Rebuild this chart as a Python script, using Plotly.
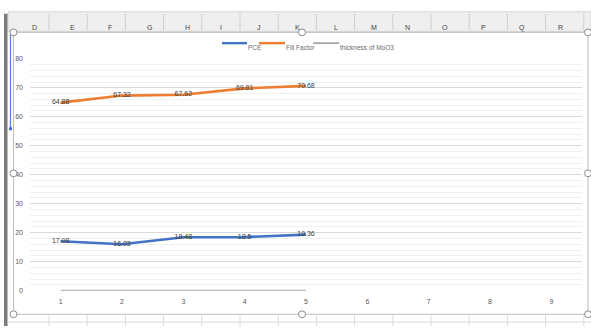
import plotly.graph_objects as go

W, H = 591, 329

# chart data
positions = [1, 2, 3, 4, 5]
pce = [17.08, 16.03, 18.48, 18.5, 19.36]
fill_factor = [64.88, 67.32, 67.62, 69.81, 70.68]
thickness = [0, 0, 0, 0, 0]
category_ticks = [1, 2, 3, 4, 5, 6, 7, 8, 9]
series_names = ["PCE", "Fill Factor", "thickness of MoO3"]
series_colors = ["#4472C4", "#ED7D31", "#A5A5A5"]
sheet_columns = ["D", "E", "F", "G", "H", "I", "J", "K", "L", "M", "N", "O", "P", "Q", "R"]

FONT = "Liberation Sans, Arial, sans-serif"


def px(x):
    return x / W


def py(y):
    return 1 - y / H


fig = go.Figure()

fig.add_trace(go.Scatter(
    x=positions, y=pce, mode="lines+text", name=series_names[0],
    line=dict(color=series_colors[0], width=2.6),
    text=[f"{v:g}" for v in pce], textposition="middle center",
    textfont=dict(size=7, color="#404040", family=FONT),
))
fig.add_trace(go.Scatter(
    x=positions, y=fill_factor, mode="lines+text", name=series_names[1],
    line=dict(color=series_colors[1], width=2.6),
    text=[f"{v:g}" for v in fill_factor], textposition="middle center",
    textfont=dict(size=7, color="#404040", family=FONT),
))
fig.add_trace(go.Scatter(
    x=positions, y=thickness, mode="lines", name=series_names[2],
    line=dict(color=series_colors[2], width=1.8),
))

shapes = []
annotations = []

# worksheet column header band
shapes.append(dict(type="rect", xref="paper", yref="paper",
                   x0=px(8), x1=1, y0=py(28), y1=py(8),
                   fillcolor="#efefef", line=dict(color="#d4d4d4", width=1), layer="below"))
for i, col in enumerate(sheet_columns):
    cx = 30 + 38.2 * i
    annotations.append(dict(x=px(cx), y=py(18), xref="paper", yref="paper", text=col,
                            showarrow=False, font=dict(size=7, color="#444444", family=FONT)))
    bx = 49 + 38.2 * i
    if bx < W:
        shapes.append(dict(type="line", xref="paper", yref="paper",
                           x0=px(bx), x1=px(bx), y0=py(27), y1=py(10),
                           line=dict(color="#cfcfcf", width=1)))
        shapes.append(dict(type="line", xref="paper", yref="paper",
                           x0=px(bx), x1=px(bx), y0=py(329), y1=py(318),
                           line=dict(color="#dadada", width=1), layer="below"))
shapes.append(dict(type="line", xref="paper", yref="paper",
                   x0=px(8), x1=1, y0=py(325), y1=py(325),
                   line=dict(color="#dadada", width=1), layer="below"))

# dark left edge of the sheet
shapes.append(dict(type="rect", xref="paper", yref="paper",
                   x0=px(4), x1=px(7.5), y0=0, y1=py(10),
                   fillcolor="#7a7a7a", line=dict(width=0)))

# chart area frame
shapes.append(dict(type="rect", xref="paper", yref="paper",
                   x0=px(13.5), x1=px(588), y0=py(317), y1=py(29),
                   fillcolor="rgba(0,0,0,0)", line=dict(color="#bdbdbd", width=1)))

# blue selection marker on the left
shapes.append(dict(type="line", xref="paper", yref="paper",
                   x0=px(10.5), x1=px(10.5), y0=py(128), y1=py(30),
                   line=dict(color="#5b7fd6", width=1.2)))
shapes.append(dict(type="rect", xref="paper", yref="paper",
                   x0=px(9), x1=px(12), y0=py(129), y1=py(126),
                   fillcolor="#4a6fd0", line=dict(width=0)))

# sizing handles
for hx, hy in [(13.5, 29), (302, 29), (588, 29), (13.5, 173), (588, 173),
               (13.5, 317), (302, 317), (588, 317)]:
    shapes.append(dict(type="circle", xref="paper", yref="paper",
                       x0=px(hx - 3.5), x1=px(hx + 3.5), y0=py(hy + 3.5), y1=py(hy - 3.5),
                       fillcolor="white", line=dict(color="#8c8c8c", width=1)))

# legend row
legend_items = [(222, 249), (259, 287), (313, 341)]
for (lx, tx), name, color in zip(legend_items, series_names, series_colors):
    shapes.append(dict(type="line", xref="paper", yref="paper",
                       x0=px(lx), x1=px(tx - 2), y0=py(40), y1=py(40),
                       line=dict(color=color, width=2.4 if color != "#A5A5A5" else 1.8)))
    annotations.append(dict(x=px(tx - 2), y=py(40), xref="paper", yref="paper", text=name,
                            showarrow=False, xanchor="left", borderpad=0,
                            font=dict(size=6.5, color="#6b6b6b", family=FONT)))

fig.update_layout(
    width=W, height=H,
    margin=dict(l=0, r=0, t=0, b=0),
    paper_bgcolor="white", plot_bgcolor="white",
    showlegend=False,
    shapes=shapes, annotations=annotations,
    xaxis=dict(
        domain=[px(30), px(582)], range=[0.5, 9.5],
        tickmode="array", tickvals=category_ticks, ticktext=[str(t) for t in category_ticks],
        showgrid=False, zeroline=False, showline=False, ticks="",
        tickfont=dict(size=7, color="#595959", family=FONT),
        ticklabelstandoff=5,
    ),
    yaxis=dict(
        domain=[py(293), py(56)], range=[0, 80],
        dtick=10, showgrid=True, gridcolor="#d9d9d9", gridwidth=1,
        zeroline=False, showline=False, ticks="",
        minor=dict(dtick=2, showgrid=True, gridcolor="#f0f0f0", gridwidth=1),
        tickfont=dict(size=7, color="#595959", family=FONT),
        ticklabelstandoff=6,
    ),
)

fig.write_html("out.html")
